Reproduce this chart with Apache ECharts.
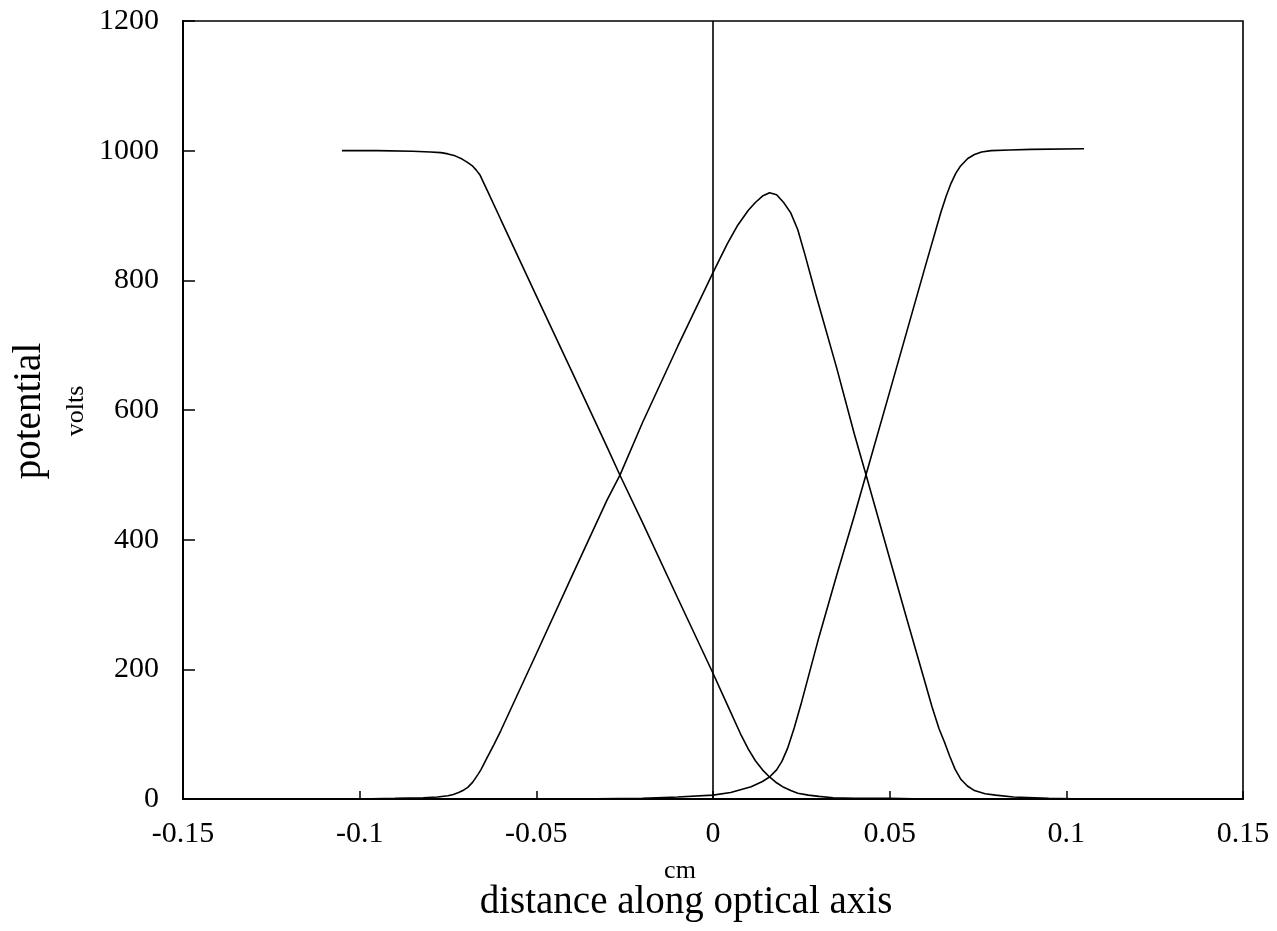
<!DOCTYPE html>
<html>
<head>
<meta charset="utf-8">
<script src="https://cdn.jsdelivr.net/npm/echarts@6/dist/echarts.min.js"></script>
<style>
html,body{margin:0;padding:0;background:#fff;}
#chart{width:1277px;height:931px;}
</style>
</head>
<body>
<div id="chart"></div>
<script>
// x positions (cm) and potentials (volts)
const curveA_x = [-0.105,-0.095,-0.085,-0.080,-0.077,-0.075,-0.073,-0.071,-0.0695,-0.068,-0.067,-0.066,-0.064,-0.060,-0.050,-0.040,-0.030,-0.0263,-0.020,-0.010,0,0.004,0.008,0.010,0.012,0.014,0.016,0.018,0.020,0.022,0.024,0.027,0.030,0.034,0.040,0.050,0.060,0.105];
const curveA_y = [1000,1000,999,998,997,995,992,987,982,976,970,963,940,893,776,660,543,499,427,310,194,146,98,77,59,45,34,25,18,13,9,6,4,2,1,1,0,0];

const curveB_x = [-0.15,-0.10,-0.090,-0.082,-0.078,-0.075,-0.0735,-0.072,-0.0705,-0.0694,-0.068,-0.0665,-0.0657,-0.064,-0.062,-0.060,-0.050,-0.040,-0.030,-0.0263,-0.020,-0.010,0,0.004,0.007,0.010,0.012,0.014,0.016,0.018,0.020,0.022,0.024,0.026,0.029,0.035,0.040,0.0433,0.050,0.055,0.060,0.062,0.064,0.0655,0.067,0.0685,0.0702,0.072,0.074,0.077,0.080,0.085,0.095,0.105,0.15];
const curveB_y = [0,0,1,2,3,5,7,10,14,18,26,38,45,63,84,106,224,343,461,500,580,698,812,856,885,908,920,930,935,932,920,904,878,840,780,665,563,500,371,275,180,142,108,88,66,46,30,20,13,8,6,3,1,0,0];

const curveC_x = [-0.105,-0.04,-0.02,-0.01,0,0.005,0.0108,0.014,0.016,0.018,0.0195,0.0211,0.023,0.0249,0.030,0.035,0.040,0.0433,0.050,0.055,0.060,0.0645,0.066,0.0674,0.0687,0.070,0.0721,0.074,0.076,0.0787,0.084,0.09,0.105];
const curveC_y = [0,0,1,3,6,10,19,27,34,45,58,78,110,146,250,345,437,500,628,724,820,905,930,950,965,976,988,994,998,1000,1001,1002,1003];

const xTicks = {min:-0.15, max:0.15, step:0.05};
const yTicks = {min:0, max:1200, step:200};

const pair = (xs, ys) => xs.map((x, i) => [x, ys[i]]);
const FONT = "'Liberation Serif', 'DejaVu Serif', serif";

const chart = echarts.init(document.getElementById('chart'), null, {renderer:'canvas'});
const lineSeries = (name, data) => ({
  name, type:'line', data, showSymbol:false, symbol:'none',
  smooth:false,
  lineStyle:{color:'#000', width:1.6}, silent:true, animation:false
});

chart.setOption({
  animation:false,
  backgroundColor:'#fff',
  grid:{left:183, right:34, top:21, bottom:132, show:true, borderColor:'#000', borderWidth:1.6, backgroundColor:'transparent'},
  xAxis:{
    type:'value', min:xTicks.min, max:xTicks.max, interval:xTicks.step,
    axisLine:{show:true, onZero:false, lineStyle:{color:'#000', width:2}},
    axisTick:{show:true, inside:true, length:8, lineStyle:{color:'#000', width:1.5}},
    axisLabel:{color:'#000', fontFamily:FONT, fontSize:30, margin:20},
    splitLine:{show:false}
  },
  yAxis:{
    type:'value', min:yTicks.min, max:yTicks.max, interval:yTicks.step,
    axisLine:{show:true, onZero:false, lineStyle:{color:'#000', width:2}},
    axisTick:{show:true, inside:true, length:12, lineStyle:{color:'#000', width:1.5}},
    axisLabel:{color:'#000', fontFamily:FONT, fontSize:30, margin:24, formatter:(v)=>String(v)},
    splitLine:{show:false}
  },
  series:[
    Object.assign(lineSeries('A', pair(curveA_x, curveA_y)), {
      markLine:{silent:true, symbol:'none', label:{show:false},
        lineStyle:{color:'#000', width:1.6, type:'solid'}, data:[{xAxis:0}]}
    }),
    lineSeries('B', pair(curveB_x, curveB_y)),
    lineSeries('C', pair(curveC_x, curveC_y))
  ],
  graphic:[
    {type:'text', x:30, y:411, rotation:Math.PI/2, style:{text:'potential', font:"39px "+FONT, fill:'#000', textAlign:'center', textVerticalAlign:'middle'}},
    {type:'text', x:76, y:411, rotation:Math.PI/2, style:{text:'volts', font:"26px "+FONT, fill:'#000', textAlign:'center', textVerticalAlign:'middle'}},
    {type:'text', x:680, y:871, style:{text:'cm', font:"26px "+FONT, fill:'#000', textAlign:'center', textVerticalAlign:'middle'}},
    {type:'text', x:686, y:903, style:{text:'distance along optical axis', font:"39px "+FONT, fill:'#000', textAlign:'center', textVerticalAlign:'middle'}}
  ]
});
</script>
</body>
</html>
